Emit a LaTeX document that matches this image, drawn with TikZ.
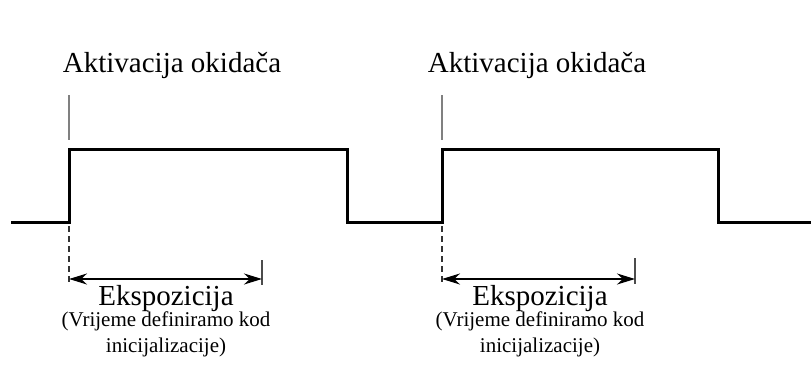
\documentclass[tikz,border=0pt]{standalone}
\usepackage{fontspec}
\setmainfont{Liberation Serif}
\usetikzlibrary{arrows.meta}
\begin{document}
\begin{tikzpicture}[x=1pt,y=-1pt,>={Stealth[length=18pt,width=11pt]},
  signal/.style={line width=3pt,line join=miter},
  trigline/.style={line width=2pt,gray},
  guide/.style={line width=1.5pt,dash pattern=on 6pt off 4pt,black!80},
  tick/.style={line width=1.5pt,black!70},
  big/.style={font=\fontsize{29}{32}\selectfont,inner sep=0pt,anchor=base},
  small/.style={font=\fontsize{21}{25}\selectfont,inner sep=0pt,anchor=base}]
\useasboundingbox (0,0) rectangle (811,367);
\draw[signal] (11,222) -- (69,222) -- (69,149) -- (347,149) -- (347,222) -- (442,222)
  -- (442,149) -- (718,149) -- (718,222) -- (811,222);
\node[big] (okidac1) at (172,72) {Aktivacija okidača};
\node[big] (okidac2) at (537,72) {Aktivacija okidača};
\coordinate (trig1) at (69,95);
\coordinate (trig2) at (442,95);
\draw[trigline] (trig1) -- ++(0,45);
\draw[trigline] (trig2) -- ++(0,45);
\coordinate (exp1a) at (69,279);
\coordinate (exp1b) at (262,279);
\coordinate (exp2a) at (442,279);
\coordinate (exp2b) at (635,279);
\draw[guide] (69,226) -- (69,284);
\draw[guide] (442,226) -- (442,284);
\draw[tick] (262,260) -- (262,285);
\draw[tick] (635,258) -- (635,284);
\draw[<->,line width=2pt] (exp1a) -- (exp1b);
\draw[<->,line width=2pt] (exp2a) -- (exp2b);
\node[big] (eksp1) at (166,305) {Ekspozicija};
\node[small] (opis1) at (166,326) {(Vrijeme definiramo kod};
\node[small] (opis1b) at (166,352) {inicijalizacije)};
\node[big] (eksp2) at (540,305) {Ekspozicija};
\node[small] (opis2) at (540,326) {(Vrijeme definiramo kod};
\node[small] (opis2b) at (540,352) {inicijalizacije)};
\end{tikzpicture}
\end{document}
